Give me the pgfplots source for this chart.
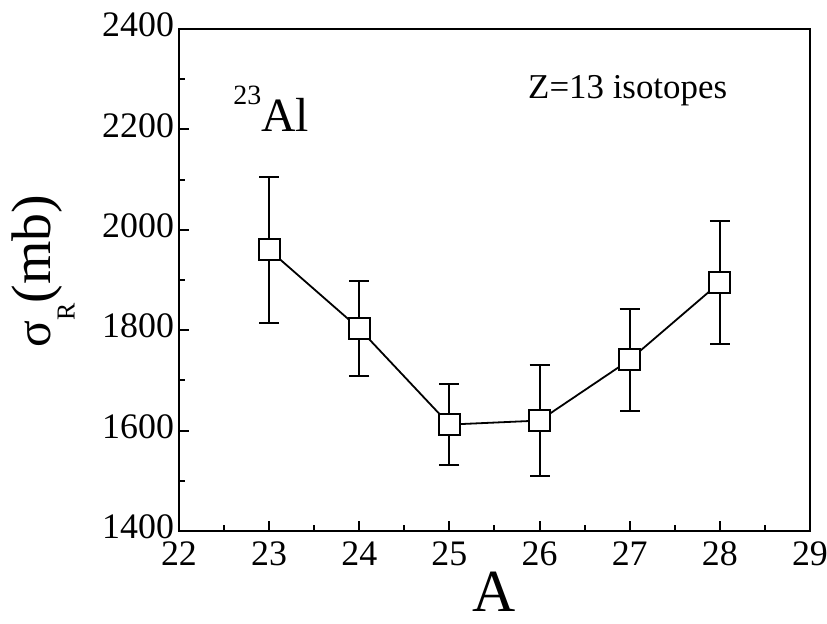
\documentclass[border=0pt]{standalone}
\usepackage{fontspec}
\setmainfont{Liberation Serif}
\usepackage{pgfplots}
\pgfplotsset{compat=1.18}
\begin{document}
\begin{tikzpicture}
\path[use as bounding box] (-89.5bp,-46.5bp) rectangle (324bp,265.5bp);
\begin{axis}[
  at={(0,0)}, anchor=south west,
  scale only axis, width=315.5bp, height=251bp,
  xmin=22, xmax=29, ymin=1400, ymax=2400,
  xtick={22,23,...,29}, ytick={1400,1600,...,2400},
  minor x tick num=1, minor y tick num=1,
  tick align=inside, xtick pos=bottom, ytick pos=left,
  major tick length=5bp, minor tick length=3bp,
  axis line style={line width=1.3bp},
  every tick/.style={line width=1bp, black},
  tick label style={font=\fontsize{18}{18}\selectfont},
  /pgf/number format/assume math mode=true,
  /pgf/number format/1000 sep={},
  yticklabel style={xshift=1bp, yshift=2bp},
  xticklabel style={yshift=-2bp},
  xlabel={A},
  ylabel={{\fontsize{25}{25}\selectfont σ}\raisebox{-12bp}{\fontsize{13}{13}\selectfont R}(mb)},
  xlabel style={font=\fontsize{30}{30}\selectfont, at={(axis description cs:0.5,0)}, anchor=base, yshift=-40bp},
  ylabel style={font=\fontsize{28}{28}\selectfont, at={(axis description cs:-0.215,0.518)}, anchor=center},
  clip=false,
]
\addplot[black, line width=0.9bp, mark=square*, mark size=5.2bp,
  mark options={fill=white, solid, line width=1bp},
  error bars/.cd, y dir=both, y explicit,
  error bar style={line width=1bp, black},
  error mark options={rotate=90, mark size=5bp, line width=1bp, black}]
  coordinates {
  (23,1960) +- (0,145)
  (24,1803) +- (0,95)
  (25,1612) +- (0,80)
  (26,1620) +- (0,110)
  (27,1741) +- (0,101)
  (28,1895) +- (0,122)
  };
\node[anchor=base west, font=\fontsize{24}{24}\selectfont, inner sep=0pt]
  at (axis cs:22.6,2195) {\raisebox{13.5bp}{\fontsize{14}{14}\selectfont 23}Al};
\node[anchor=base west, font=\fontsize{17.5}{17.5}\selectfont, inner sep=0pt]
  at (axis cs:25.87,2261) {Z=13 isotopes};
\end{axis}
\end{tikzpicture}
\end{document}
